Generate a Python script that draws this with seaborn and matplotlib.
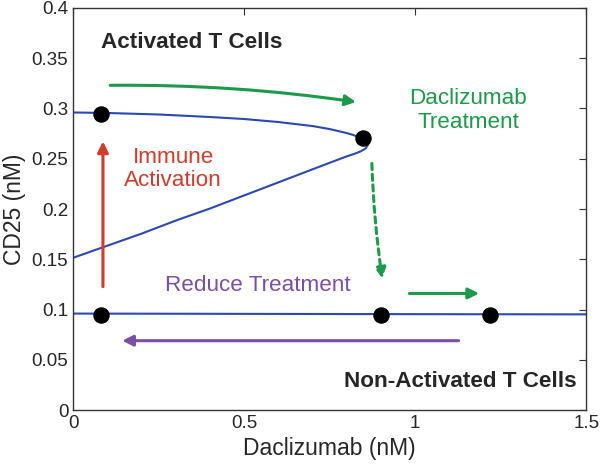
import matplotlib
matplotlib.use("Agg")
import matplotlib.pyplot as plt
import pandas as pd
import seaborn as sns

# steady-state curve (upper stable + middle unstable branch)
upper_x = [0.0, 0.1, 0.25, 0.4, 0.5, 0.6, 0.7, 0.75, 0.8, 0.82, 0.84, 0.855, 0.862]
upper_y = [0.296, 0.2955, 0.294, 0.2915, 0.2895, 0.2865, 0.2825, 0.2795, 0.2755, 0.2735, 0.2708, 0.268, 0.264]
middle_x = [0.855, 0.84, 0.82, 0.8, 0.7, 0.6, 0.5, 0.4, 0.3, 0.2, 0.1, 0.0]
middle_y = [0.2602, 0.2572, 0.2546, 0.2524, 0.2395, 0.2265, 0.2135, 0.2005, 0.1885, 0.1755, 0.1635, 0.1515]
lower_x = [0.0, 0.5, 1.0, 1.5]
lower_y = [0.096, 0.0957, 0.0954, 0.0952]

# marked states
dot_x = [0.081, 0.848, 0.081, 0.90, 1.22]
dot_y = [0.2945, 0.2705, 0.0945, 0.0945, 0.0945]

blue = "#2b48b5"
green = "#1b9a4a"
red = "#d23b2b"
purple = "#7b4fa6"

sns.set_style("white")
plt.rcParams["font.family"] = ["Liberation Sans", "DejaVu Sans"]

fig, ax = plt.subplots(figsize=(6, 4.66), dpi=100)
fig.subplots_adjust(left=0.122, right=0.977, bottom=0.12, top=0.983)

curve = pd.DataFrame({"x": upper_x + middle_x, "y": upper_y + middle_y})
sns.lineplot(data=curve, x="x", y="y", sort=False, estimator=None, color=blue, lw=1.5, ax=ax)
sns.lineplot(x=lower_x, y=lower_y, sort=False, estimator=None, color=blue, lw=1.5, ax=ax)
sns.scatterplot(x=dot_x, y=dot_y, s=120, color="black", edgecolor="black", zorder=5, ax=ax)

arrow = dict(arrowstyle="-|>", lw=2.2, mutation_scale=16)
ax.annotate("", xy=(0.835, 0.306), xytext=(0.10, 0.323),
            arrowprops=dict(arrow, color=green, connectionstyle="arc3,rad=-0.04"))
ax.annotate("", xy=(0.905, 0.128), xytext=(0.873, 0.248),
            arrowprops=dict(arrow, color=green, linestyle=(0, (2, 1.5)),
                            connectionstyle="arc3,rad=0.03"))
ax.annotate("", xy=(1.195, 0.116), xytext=(0.975, 0.116),
            arrowprops=dict(arrow, color=green))
ax.annotate("", xy=(0.087, 0.27), xytext=(0.087, 0.12),
            arrowprops=dict(arrow, color=red))
ax.annotate("", xy=(0.135, 0.069), xytext=(1.135, 0.069),
            arrowprops=dict(arrow, color=purple))

fs = 16.2
ax.text(0.08, 0.366, "Activated T Cells", fontsize=fs, fontweight="bold", va="center")
ax.text(1.472, 0.028, "Non-Activated T Cells", fontsize=fs, fontweight="bold",
        va="center", ha="right")
ax.text(1.155, 0.298, "Daclizumab\nTreatment", fontsize=fs, color=green,
        ha="center", va="center", linespacing=1.15)
ax.text(0.292, 0.240, "Immune\nActivation", fontsize=fs, color=red,
        ha="center", va="center", linespacing=1.15)
ax.text(0.54, 0.124, "Reduce Treatment", fontsize=fs, color=purple,
        ha="center", va="center")

ax.set_xlim(0, 1.5)
ax.set_ylim(0, 0.4)
ax.set_xticks([0, 0.5, 1, 1.5])
ax.set_xticklabels(["0", "0.5", "1", "1.5"])
ax.set_yticks([0, 0.05, 0.1, 0.15, 0.2, 0.25, 0.3, 0.35, 0.4])
ax.set_yticklabels(["0", "0.05", "0.1", "0.15", "0.2", "0.25", "0.3", "0.35", "0.4"])
ax.tick_params(direction="in", top=True, right=True, labelsize=13.5, length=5, color="#333333")
ax.set_xlabel("Daclizumab (nM)", fontsize=16.5, labelpad=4)
ax.set_ylabel("CD25 (nM)", fontsize=16.5, labelpad=4)
for s in ax.spines.values():
    s.set_color("#333333")
    s.set_linewidth(1)

fig.savefig("out.png", dpi=100)
